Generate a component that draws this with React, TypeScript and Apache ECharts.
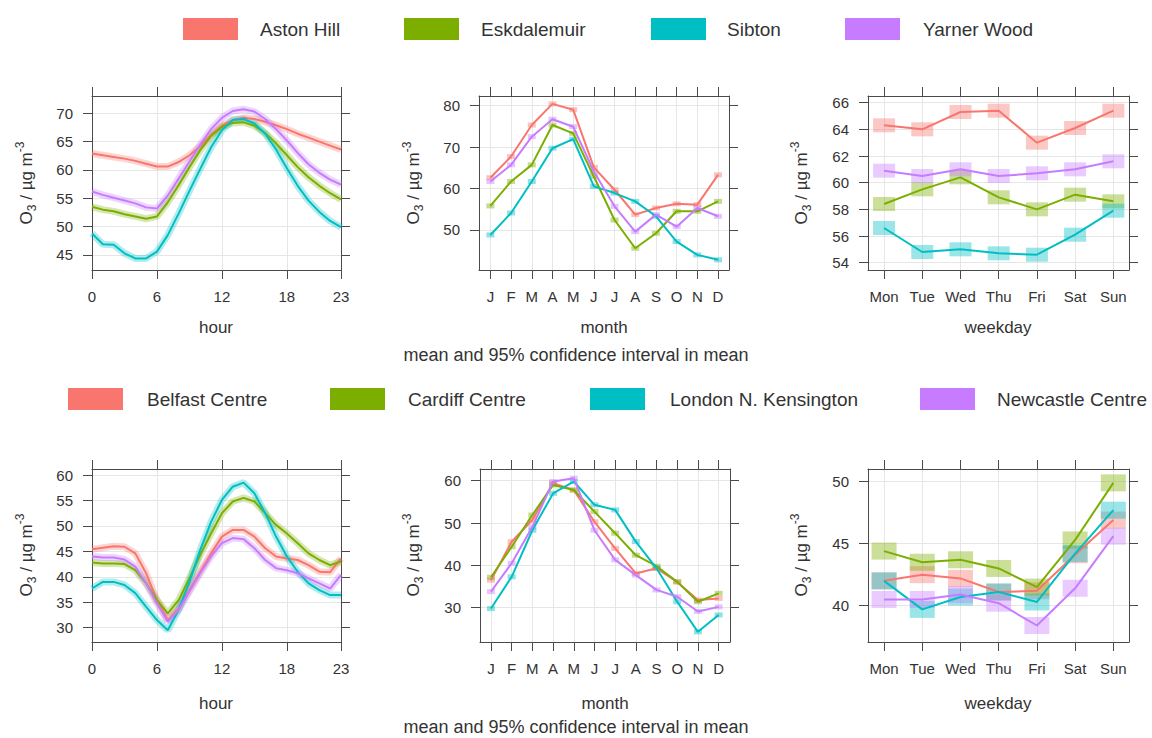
import React, { useEffect, useRef } from "react";
import * as echarts from "echarts";

// ---------- categories / labels ----------
const hours = [0, 1, 2, 3, 4, 5, 6, 7, 8, 9, 10, 11, 12, 13, 14, 15, 16, 17, 18, 19, 20, 21, 22, 23];
const hourTicks = [0, 6, 12, 18, 23];
const monthLabels = ["J", "F", "M", "A", "M", "J", "J", "A", "S", "O", "N", "D"];
const weekdayLabels = ["Mon", "Tue", "Wed", "Thu", "Fri", "Sat", "Sun"];

const topSites = ["Aston Hill", "Eskdalemuir", "Sibton", "Yarner Wood"];
const bottomSites = ["Belfast Centre", "Cardiff Centre", "London N. Kensington", "Newcastle Centre"];
const colors = ["#F8766D", "#7CAE00", "#00BFC4", "#C77CFF"];

// ---------- top block: rural sites ----------
const astonHour = [62.9, 62.6, 62.3, 62.0, 61.6, 61.1, 60.6, 60.6, 61.4, 62.6, 64.2, 66.2, 67.8, 68.8, 69.2, 69.0, 68.5, 67.9, 67.2, 66.4, 65.7, 65.0, 64.3, 63.6];
const eskHour = [53.5, 53.0, 52.7, 52.2, 51.8, 51.4, 51.8, 54.3, 57.3, 60.5, 63.5, 66.0, 67.6, 68.3, 68.4, 67.8, 66.5, 64.7, 62.6, 60.5, 58.7, 57.2, 55.9, 54.8];
const sibHour = [48.8, 46.9, 46.8, 45.3, 44.4, 44.4, 45.6, 48.5, 52.3, 56.3, 60.2, 64.0, 67.0, 68.8, 69.0, 68.2, 66.4, 63.6, 60.3, 57.2, 54.6, 52.6, 51.0, 49.9];
const yarHour = [56.2, 55.6, 55.1, 54.6, 54.1, 53.4, 53.2, 55.5, 58.5, 61.5, 64.5, 67.2, 69.2, 70.4, 70.7, 70.3, 69.0, 67.2, 65.2, 63.0, 61.0, 59.5, 58.3, 57.4];

const astonMonth = [62.6, 67.7, 75.3, 80.4, 79.0, 65.1, 59.7, 53.7, 55.3, 56.3, 56.1, 63.3];
const eskMonth = [55.8, 61.7, 65.7, 75.3, 73.3, 62.9, 52.4, 45.6, 49.2, 54.5, 54.5, 56.9];
const sibMonth = [48.8, 54.1, 61.7, 69.7, 71.9, 60.5, 58.9, 56.9, 53.3, 47.2, 44.0, 42.8];
const yarMonth = [61.7, 65.7, 72.5, 76.7, 74.9, 64.1, 55.7, 49.6, 53.7, 50.8, 55.3, 53.3];

const astonWeek = [64.3, 64.0, 65.3, 65.4, 63.0, 64.1, 65.4];
const eskWeek = [58.4, 59.5, 60.4, 58.9, 58.0, 59.1, 58.6];
const sibWeek = [56.6, 54.8, 55.0, 54.7, 54.6, 56.1, 57.9];
const yarWeek = [60.9, 60.5, 61.0, 60.5, 60.7, 61.0, 61.6];

// ---------- bottom block: urban sites ----------
const belfastHour = [45.4, 45.7, 46.0, 45.9, 44.6, 40.7, 35.4, 31.5, 33.8, 37.4, 41.0, 44.6, 47.9, 49.2, 49.2, 47.9, 45.6, 44.0, 43.6, 43.3, 42.3, 41.0, 40.9, 43.6];
const cardiffHour = [42.8, 42.6, 42.6, 42.5, 41.3, 38.7, 35.4, 32.8, 35.4, 39.7, 44.3, 48.5, 52.5, 54.8, 55.5, 54.8, 52.5, 50.2, 48.5, 46.6, 44.6, 43.3, 42.3, 43.0];
const londonHour = [37.7, 39.0, 39.0, 38.4, 36.8, 34.1, 31.5, 29.5, 33.5, 39.0, 45.3, 50.8, 55.1, 57.7, 58.5, 56.4, 52.5, 47.9, 44.0, 41.0, 38.7, 37.4, 36.4, 36.4];
const newcastleHour = [44.0, 43.8, 43.8, 43.4, 42.0, 38.7, 34.8, 31.2, 33.5, 37.1, 40.7, 44.0, 46.6, 47.6, 47.4, 45.6, 43.3, 41.7, 41.3, 40.7, 39.7, 38.7, 37.7, 40.4];

const belfastMonth = [36.5, 45.6, 50.7, 59.4, 57.8, 50.3, 44.0, 38.1, 39.3, 36.1, 31.8, 32.2];
const cardiffMonth = [37.2, 44.4, 51.9, 59.0, 57.8, 52.7, 47.6, 42.4, 39.8, 36.1, 31.4, 33.4];
const londonMonth = [29.8, 37.3, 48.3, 57.0, 59.8, 54.3, 53.1, 45.6, 39.3, 31.4, 24.3, 28.3];
const newcastleMonth = [33.8, 40.5, 49.1, 59.8, 60.6, 48.3, 41.3, 37.7, 34.2, 32.6, 29.1, 30.2];

const belfastWeek = [42.0, 42.5, 42.2, 41.1, 41.2, 44.1, 46.9];
const cardiffWeek = [44.4, 43.5, 43.7, 43.0, 41.5, 45.3, 49.9];
const londonWeek = [42.0, 39.7, 40.7, 41.1, 40.3, 44.2, 47.7];
const newcastleWeek = [40.5, 40.5, 40.9, 40.2, 38.4, 41.4, 45.6];

// ---------- y axis ticks ----------
const yTicksTopHour = [45, 50, 55, 60, 65, 70];
const yTicksTopMonth = [50, 60, 70, 80];
const yTicksTopWeek = [54, 56, 58, 60, 62, 64, 66];
const yTicksBotHour = [30, 35, 40, 45, 50, 55, 60];
const yTicksBotMonth = [30, 40, 50, 60];
const yTicksBotWeek = [40, 45, 50];

const FONT = "'Liberation Sans', Arial, Helvetica, sans-serif";
const TEXT = "#333333";
const AXIS = "#4a4a4a";
const GRIDC = "#e6e6e6";

const monthIdx = monthLabels.map((_, i) => i);
const weekIdx = weekdayLabels.map((_, i) => i);

type Panel = {
  kind: "hour" | "month" | "week";
  grid: { left: number; top: number; width: number; height: number };
  xMin: number;
  xMax: number;
  xTicks: number[];
  fmt: (v: number) => string;
  yMin: number;
  yMax: number;
  yTicks: number[];
  sets: number[][];
  box?: number[];
};

const panels: Panel[] = [
  { kind: "hour", grid: { left: 92, top: 96, width: 249, height: 174 }, xMin: 0, xMax: 23, xTicks: hourTicks, fmt: (v) => String(v), yMin: 42.35, yMax: 73.05, yTicks: yTicksTopHour, sets: [astonHour, eskHour, sibHour, yarHour] },
  { kind: "month", grid: { left: 479, top: 96, width: 250, height: 174 }, xMin: -0.55, xMax: 11.53, xTicks: monthIdx, fmt: (v) => monthLabels[Math.round(v)], yMin: 40.35, yMax: 82.3, yTicks: yTicksTopMonth, sets: [astonMonth, eskMonth, sibMonth, yarMonth] },
  { kind: "week", grid: { left: 868, top: 96, width: 261, height: 174 }, xMin: -0.42, xMax: 6.41, xTicks: weekIdx, fmt: (v) => weekdayLabels[Math.round(v)], yMin: 53.45, yMax: 66.5, yTicks: yTicksTopWeek, sets: [astonWeek, eskWeek, sibWeek, yarWeek], box: [22, 14] },
  { kind: "hour", grid: { left: 92, top: 469, width: 249, height: 173 }, xMin: 0, xMax: 23, xTicks: hourTicks, fmt: (v) => String(v), yMin: 27.19, yMax: 61.18, yTicks: yTicksBotHour, sets: [belfastHour, cardiffHour, londonHour, newcastleHour] },
  { kind: "month", grid: { left: 480, top: 469, width: 250, height: 173 }, xMin: -0.53, xMax: 11.55, xTicks: monthIdx, fmt: (v) => monthLabels[Math.round(v)], yMin: 21.9, yMax: 62.76, yTicks: yTicksBotMonth, sets: [belfastMonth, cardiffMonth, londonMonth, newcastleMonth] },
  { kind: "week", grid: { left: 868, top: 469, width: 261, height: 173 }, xMin: -0.42, xMax: 6.41, xTicks: weekIdx, fmt: (v) => weekdayLabels[Math.round(v)], yMin: 37.07, yMax: 51.02, yTicks: yTicksBotWeek, sets: [belfastWeek, cardiffWeek, londonWeek, newcastleWeek], box: [25, 17] },
];

function buildOption() {
  const grids: any[] = [];
  const xAxes: any[] = [];
  const yAxes: any[] = [];
  const series: any[] = [];

  panels.forEach((p, i) => {
    grids.push({ ...p.grid, show: false, containLabel: false, outerBoundsMode: "none" });
    const tick = (vals: number[]) => ({ show: true, inside: false, length: 9, customValues: vals, lineStyle: { color: AXIS, width: 1 } });
    const line = { show: true, onZero: false, lineStyle: { color: AXIS, width: 1 } };
    xAxes.push({
      gridIndex: i, type: "value", min: p.xMin, max: p.xMax, position: "bottom",
      axisLine: line, axisTick: tick(p.xTicks),
      axisLabel: { show: true, customValues: p.xTicks, formatter: p.fmt, color: TEXT, fontSize: 15, fontFamily: FONT, margin: 19 },
      splitLine: { show: true, lineStyle: { color: GRIDC, width: 1 } },
    });
    xAxes.push({
      gridIndex: i, type: "value", min: p.xMin, max: p.xMax, position: "top",
      axisLine: line, axisTick: tick(p.xTicks), axisLabel: { show: false }, splitLine: { show: false },
    });
    yAxes.push({
      gridIndex: i, type: "value", min: p.yMin, max: p.yMax, position: "left",
      axisLine: line, axisTick: tick(p.yTicks),
      axisLabel: { show: true, customValues: p.yTicks, color: TEXT, fontSize: 15, fontFamily: FONT, margin: 19 },
      splitLine: { show: true, lineStyle: { color: GRIDC, width: 1 } },
    });
    yAxes.push({
      gridIndex: i, type: "value", min: p.yMin, max: p.yMax, position: "right",
      axisLine: line, axisTick: tick(p.yTicks), axisLabel: { show: false }, splitLine: { show: false },
    });

    const xi = 2 * i;
    p.sets.forEach((vals, s) => {
      const xs = p.kind === "hour" ? hours : p.kind === "month" ? monthIdx : weekIdx;
      const data = vals.map((v, k) => [xs[k], v]);
      const c = colors[s];
      if (p.kind === "hour") {
        series.push({ type: "line", xAxisIndex: xi, yAxisIndex: xi, data, symbol: "none", silent: true, z: 2, lineStyle: { color: c, width: 7, opacity: 0.3 } });
      } else if (p.kind === "month") {
        series.push({ type: "scatter", xAxisIndex: xi, yAxisIndex: xi, data, symbol: "rect", symbolSize: [8, 5], silent: true, z: 2, itemStyle: { color: c, opacity: 0.45 } });
      } else {
        series.push({ type: "scatter", xAxisIndex: xi, yAxisIndex: xi, data, symbol: "rect", symbolSize: p.box, silent: true, z: 2, itemStyle: { color: c, opacity: 0.4 } });
      }
      series.push({ type: "line", xAxisIndex: xi, yAxisIndex: xi, data, symbol: "none", z: 3, lineStyle: { color: c, width: 2 } });
    });
  });

  const graphics: any[] = [];
  const txt = (x: number, y: number, text: string, size: number, align = "center") => ({
    type: "text", x, y, silent: true,
    style: { text, fill: TEXT, font: `${size}px ${FONT}`, align, verticalAlign: "middle" },
  });
  const ytitle = (x: number, y: number) => ({
    type: "text", x, y, rotation: Math.PI / 2, silent: true,
    style: {
      text: "{a|O}{b|3}{a| / µg m}{c|-3}",
      fill: TEXT, align: "center", verticalAlign: "middle",
      rich: {
        a: { fontSize: 17, fontFamily: FONT, fill: TEXT, lineHeight: 24, verticalAlign: "middle" },
        b: { fontSize: 12, fontFamily: FONT, fill: TEXT, lineHeight: 24, verticalAlign: "bottom" },
        c: { fontSize: 12, fontFamily: FONT, fill: TEXT, lineHeight: 24, verticalAlign: "top" },
      },
    },
  });

  // legends
  const topRectX = [183, 404, 651, 845];
  const topTextX = [260, 481, 727, 923];
  topSites.forEach((name, s) => {
    graphics.push({ type: "rect", silent: true, shape: { x: topRectX[s], y: 18, width: 55, height: 22 }, style: { fill: colors[s] } });
    graphics.push(txt(topTextX[s], 29, name, 19, "left"));
  });
  const botRectX = [68, 330, 590, 920];
  const botTextX = [147, 408, 670, 997];
  bottomSites.forEach((name, s) => {
    graphics.push({ type: "rect", silent: true, shape: { x: botRectX[s], y: 388, width: 55, height: 22 }, style: { fill: colors[s] } });
    graphics.push(txt(botTextX[s], 399, name, 19, "left"));
  });

  // axis titles
  graphics.push(txt(216, 327, "hour", 17));
  graphics.push(txt(604, 327, "month", 17));
  graphics.push(txt(998, 327, "weekday", 17));
  graphics.push(txt(576, 355, "mean and 95% confidence interval in mean", 18));
  graphics.push(txt(216, 703, "hour", 17));
  graphics.push(txt(605, 703, "month", 17));
  graphics.push(txt(998, 703, "weekday", 17));
  graphics.push(txt(576, 727, "mean and 95% confidence interval in mean", 18));
  graphics.push(ytitle(26, 183));
  graphics.push(ytitle(413, 183));
  graphics.push(ytitle(801, 183));
  graphics.push(ytitle(26, 555));
  graphics.push(ytitle(413, 555));
  graphics.push(ytitle(801, 555));

  return {
    animation: false,
    backgroundColor: "#ffffff",
    textStyle: { fontFamily: FONT },
    grid: grids,
    xAxis: xAxes,
    yAxis: yAxes,
    series,
    graphic: graphics,
  };
}

export default function App() {
  const ref = useRef<HTMLDivElement>(null);
  useEffect(() => {
    if (!ref.current) return;
    const chart = echarts.init(ref.current, null, { renderer: "svg" });
    chart.setOption(buildOption() as any);
    return () => chart.dispose();
  }, []);
  return (
    <div
      ref={ref}
      style={{ position: "fixed", left: 0, top: 0, width: 1152, height: 738, background: "#fff" }}
    />
  );
}
